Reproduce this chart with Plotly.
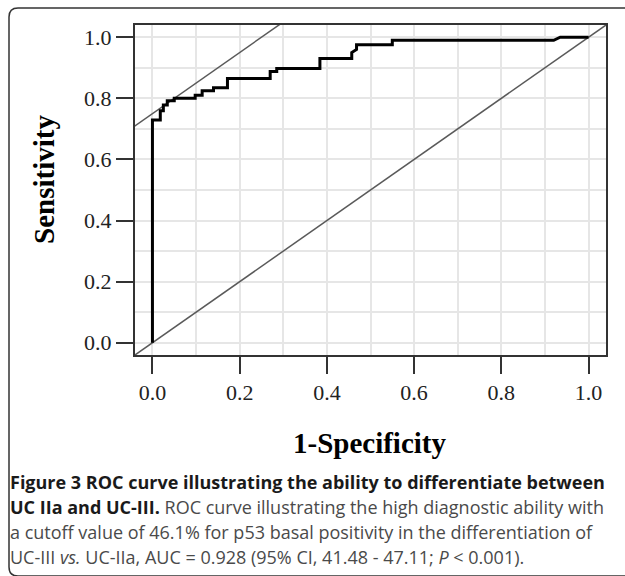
import plotly.graph_objects as go

# ---- data ----
fpr = [0.0, 0.0, 0.018, 0.018, 0.025, 0.025, 0.034, 0.034, 0.05, 0.05, 0.098, 0.098,
       0.114, 0.114, 0.14, 0.14, 0.172, 0.172, 0.27, 0.27, 0.285, 0.285, 0.384, 0.384,
       0.457, 0.457, 0.468, 0.468, 0.55, 0.55, 0.92, 0.935, 1.0]
tpr = [0.0, 0.729, 0.729, 0.759, 0.759, 0.778, 0.778, 0.792, 0.792, 0.80, 0.80, 0.81,
       0.81, 0.825, 0.825, 0.835, 0.835, 0.865, 0.865, 0.888, 0.888, 0.898, 0.898, 0.93,
       0.93, 0.95, 0.96, 0.975, 0.975, 0.99, 0.99, 1.0, 1.0]
ref_x = [-0.1, 1.1]           # chance line y = x
tangent_intercept = 0.75       # tangent line y = x + 0.75 (cutoff)
tick_vals = [0.0, 0.2, 0.4, 0.6, 0.8, 1.0]
tick_text = ["0.0", "0.2", "0.4", "0.6", "0.8", "1.0"]
x_title = "1-Specificity"
y_title = "Sensitivity"
caption_lines = [
    "<b>Figure 3 ROC curve illustrating the ability to differentiate between</b>",
    "<b>UC IIa and UC-III.</b> <span style='color:#4a4a4a'>ROC curve illustrating the high diagnostic ability with</span>",
    "<span style='color:#4a4a4a'>a cutoff value of 46.1% for p53 basal positivity in the differentiation of</span>",
    "<span style='color:#4a4a4a'>UC-III <i>vs.</i> UC-IIa, AUC = 0.928 (95% CI, 41.48 - 47.11; <i>P</i> &lt; 0.001).</span>",
]

W, H = 625, 576
L, R, T, B = 135, 606, 25, 355  # plot area in pixels


def px(xp):
    return (xp - L) / (R - L)


def py(yp):
    return (B - yp) / (B - T)


fig = go.Figure()
fig.add_trace(go.Scatter(x=ref_x, y=ref_x, mode="lines",
                         line=dict(color="#5a5a5a", width=1.5), hoverinfo="skip", showlegend=False))
fig.add_trace(go.Scatter(x=ref_x, y=[v + tangent_intercept for v in ref_x], mode="lines",
                         line=dict(color="#5a5a5a", width=1.5), hoverinfo="skip", showlegend=False))
fig.add_trace(go.Scatter(x=fpr, y=tpr, mode="lines",
                         line=dict(color="black", width=3), showlegend=False))

axis_common = dict(
    range=[-0.04, 1.04], tickvals=tick_vals, ticktext=tick_text,
    ticks="outside", ticklen=17, tickwidth=2, tickcolor="#333333",
    showline=True, linecolor="#333333", linewidth=2, mirror=True,
    showgrid=True, gridcolor="#e6e6e6", gridwidth=1.5,
    minor=dict(dtick=0.1, tick0=0, showgrid=True, gridcolor="#e6e6e6", gridwidth=1.5, ticks=""),
    zeroline=False,
    tickfont=dict(family="Liberation Serif", size=22, color="#222222"),
)
fig.update_xaxes(**axis_common)
fig.update_yaxes(**axis_common)

# axis titles
fig.add_annotation(text=f"<b>{x_title}</b>", xref="paper", yref="paper", x=px(370), y=py(443),
                   xanchor="center", yanchor="middle", showarrow=False,
                   font=dict(family="Liberation Serif", size=29, color="black"))
fig.add_annotation(text=f"<b>{y_title}</b>", xref="paper", yref="paper", x=px(44), y=py(180),
                   xanchor="center", yanchor="middle", showarrow=False, textangle=-90,
                   font=dict(family="Liberation Serif", size=29, color="black"))

# outer rounded frame
x0, y0, x1, y1, r = px(9), py(8), px(640), py(576), 9
rx, ry = r / (R - L), r / (B - T)
path = (f"M {x1},{y0} L {x0 + rx},{y0} Q {x0},{y0} {x0},{y0 - ry} "
        f"L {x0},{y1 + ry} Q {x0},{y1} {x0 + rx},{y1} L {x1},{y1}")
fig.add_shape(type="path", path=path, xref="paper", yref="paper",
              line=dict(color="#333333", width=1.5))

centers = [482, 507, 532, 557]
for txt, cy in zip(caption_lines, centers):
    fig.add_annotation(text=txt, xref="paper", yref="paper", x=px(8), y=py(cy),
                       xanchor="left", yanchor="middle", showarrow=False, align="left",
                       font=dict(family="Open Sans", size=18, color="#1a1a1a"))

fig.update_layout(width=W, height=H, margin=dict(l=L, r=W - R, t=T, b=H - B),
                  paper_bgcolor="white", plot_bgcolor="white")

fig.write_html("out.html", config={"displayModeBar": False},
               post_script="document.body.style.margin='0';document.body.style.overflow='hidden';")
